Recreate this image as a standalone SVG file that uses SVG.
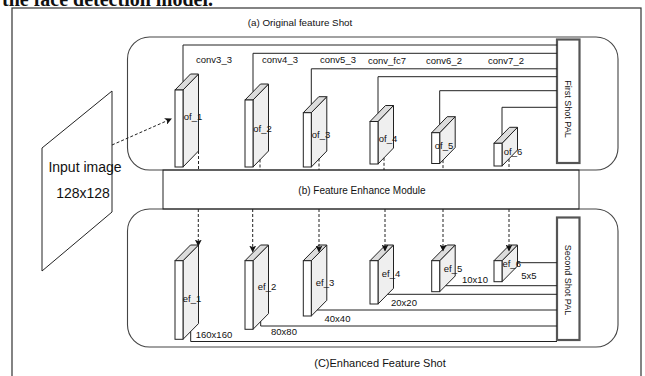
<svg xmlns="http://www.w3.org/2000/svg" width="645" height="376" viewBox="0 0 645 376">
<defs>
<style>
text{font-family:"Liberation Sans",Arial,sans-serif;fill:#111}
.lbl{font-size:9.5px;text-anchor:middle;dominant-baseline:central}
.ttl{font-size:9.8px;text-anchor:middle;dominant-baseline:central}
.ln{fill:none;stroke:#222;stroke-width:1}
.dash{fill:none;stroke:#222;stroke-width:1;stroke-dasharray:3 2}
.frame{fill:none;stroke:#333;stroke-width:1.2}
.grp{fill:none;stroke:#444;stroke-width:1.1}
.front{fill:#fff;stroke:#222;stroke-width:1}
.side{fill:#efefef;stroke:#222;stroke-width:1}
.top{fill:#dcdcdc;stroke:#222;stroke-width:1}
.pal{fill:#fff;stroke:#555;stroke-width:2.2}
</style>
<marker id="ah" markerWidth="7" markerHeight="7" refX="6" refY="3.5" orient="auto" markerUnits="userSpaceOnUse">
<path d="M0,0 L7,3.5 L0,7 L1.8,3.5 Z" fill="#111"/>
</marker>
</defs>
<rect width="645" height="376" fill="#fff"/>
<text x="2" y="6" style="font-family:'Liberation Serif','Times New Roman',serif;font-weight:bold;font-size:20px">the face detection model.</text>
<rect class="frame" x="12" y="8" width="629" height="400"/>

<g id="titles">
<text class="ttl" x="300" y="22">(a) Original feature Shot</text>
<text class="ttl" x="362" y="190" style="font-size:10px">(b) Feature Enhance Module</text>
<text class="ttl" x="380" y="362.5" style="font-size:11px">(C)Enhanced Feature Shot</text>
</g>

<g id="group-a"><rect class="grp" x="127.5" y="37" width="490.5" height="133" rx="22"/></g>
<g id="group-c"><rect class="grp" x="127.5" y="209" width="490.5" height="138" rx="22"/></g>
<g id="fem"><rect class="ln" x="163" y="170" width="416" height="39"/></g>

<g id="input">
<polygon points="42,148 112,91 112,212 42,271" fill="#fff" stroke="#222" stroke-width="1"/>
<text x="85" y="167" style="font-size:14px;text-anchor:middle;dominant-baseline:central">Input image</text>
<text x="83" y="193" style="font-size:14px;text-anchor:middle;dominant-baseline:central">128x128</text>
</g>

<g id="pal1">
<rect class="pal" x="557" y="39.5" width="22.5" height="123.5"/>
<text transform="translate(568,109) rotate(90)" style="font-size:9px;text-anchor:middle;dominant-baseline:central">First Shot PAL</text>
</g>
<g id="pal2">
<rect class="pal" x="557" y="217.5" width="22.5" height="122.5"/>
<text transform="translate(567.5,280) rotate(90)" style="font-size:9px;text-anchor:middle;dominant-baseline:central">Second Shot PAL</text>
</g>

<!-- top cubes: front x,w=8, dx=15.5, dy=16 -->
<g id="of_1">
<polygon class="side" points="183,90 198.5,74 198.5,151 183,167"/>
<polygon class="top" points="175,90 190.5,74 198.5,74 183,90"/>
<rect class="front" x="175" y="90" width="8" height="77"/>
<text class="lbl" x="193" y="116">of_1</text>
</g>
<g id="of_2">
<polygon class="side" points="253,100 268.5,84 268.5,151 253,167"/>
<polygon class="top" points="245,100 260.5,84 268.5,84 253,100"/>
<rect class="front" x="245" y="100" width="8" height="67"/>
<text class="lbl" x="262.5" y="128">of_2</text>
</g>
<g id="of_3">
<polygon class="side" points="311.3,112.7 326.8,96.7 326.8,151 311.3,167"/>
<polygon class="top" points="303.3,112.7 318.8,96.7 326.8,96.7 311.3,112.7"/>
<rect class="front" x="303.3" y="112.7" width="8" height="54.3"/>
<text class="lbl" x="321" y="134">of_3</text>
</g>
<g id="of_4">
<polygon class="side" points="378,121.5 393.5,105.5 393.5,148 378,164"/>
<polygon class="top" points="370,121.5 385.5,105.5 393.5,105.5 378,121.5"/>
<rect class="front" x="370" y="121.5" width="8" height="42.5"/>
<text class="lbl" x="388" y="138">of_4</text>
</g>
<g id="of_5">
<polygon class="side" points="439.7,132.7 455.2,116.7 455.2,147.5 439.7,163.5"/>
<polygon class="top" points="431.7,132.7 447.2,116.7 455.2,116.7 439.7,132.7"/>
<rect class="front" x="431.7" y="132.7" width="8" height="30.8"/>
<text class="lbl" x="444" y="145">of_5</text>
</g>
<g id="of_6">
<polygon class="side" points="502,143.3 517.5,127.3 517.5,150 502,166"/>
<polygon class="top" points="494,143.3 509.5,127.3 517.5,127.3 502,143.3"/>
<rect class="front" x="494" y="143.3" width="8" height="22.7"/>
<text class="lbl" x="513" y="151">of_6</text>
</g>

<!-- bottom cubes: front top 260.7, dy=15.7 -->
<g id="ef_1">
<polygon class="side" points="183,260.7 198.5,245 198.5,323.6 183,339.3"/>
<polygon class="top" points="175,260.7 190.5,245 198.5,245 183,260.7"/>
<rect class="front" x="175" y="260.7" width="8" height="78.6"/>
<text class="lbl" x="192" y="298.3">ef_1</text>
</g>
<g id="ef_2">
<polygon class="side" points="253,260.7 268.5,245 268.5,313.6 253,329.3"/>
<polygon class="top" points="245,260.7 260.5,245 268.5,245 253,260.7"/>
<rect class="front" x="245" y="260.7" width="8" height="68.6"/>
<text class="lbl" x="267" y="286.7">ef_2</text>
</g>
<g id="ef_3">
<polygon class="side" points="311.3,260.7 326.8,245 326.8,300.3 311.3,316"/>
<polygon class="top" points="303.3,260.7 318.8,245 326.8,245 311.3,260.7"/>
<rect class="front" x="303.3" y="260.7" width="8" height="55.3"/>
<text class="lbl" x="325" y="282.7">ef_3</text>
</g>
<g id="ef_4">
<polygon class="side" points="378,260.7 393.5,245 393.5,288.3 378,304"/>
<polygon class="top" points="370,260.7 385.5,245 393.5,245 378,260.7"/>
<rect class="front" x="370" y="260.7" width="8" height="43.3"/>
<text class="lbl" x="391" y="273.3">ef_4</text>
</g>
<g id="ef_5">
<polygon class="side" points="439.7,260.7 455.2,245 455.2,276 439.7,291.7"/>
<polygon class="top" points="431.7,260.7 447.2,245 455.2,245 439.7,260.7"/>
<rect class="front" x="431.7" y="260.7" width="8" height="31"/>
<text class="lbl" x="453" y="268.3">ef_5</text>
</g>
<g id="ef_6">
<polygon class="side" points="502,260.7 517.5,245 517.5,266 502,281.7"/>
<polygon class="top" points="494,260.7 509.5,245 517.5,245 502,260.7"/>
<rect class="front" x="494" y="260.7" width="8" height="21"/>
<text class="lbl" x="511.7" y="263.3">ef_6</text>
</g>

<g id="connectors">
<path class="dash" d="M112,145 L171,119" marker-end="url(#ah)"/>
<!-- top solid to First Shot PAL -->
<path class="ln" d="M183,81.7 V45 H557"/>
<path class="ln" d="M253,91.7 V53.3 H557"/>
<path class="ln" d="M311.3,104.4 V68.8 H557"/>
<path class="ln" d="M378,113.2 V76.7 H557"/>
<path class="ln" d="M439.7,124.4 V90.7 H557"/>
<path class="ln" d="M502,135 V107.3 H557"/>
<!-- dashed of -> FEM -->
<path class="dash" d="M198.5,151 V170"/>
<path class="dash" d="M260,159.5 V170"/>
<path class="dash" d="M319,158.5 V170"/>
<path class="dash" d="M384,157.8 V170"/>
<path class="dash" d="M443,160.1 V170"/>
<path class="dash" d="M509,159 V170"/>
<!-- dashed FEM -> ef -->
<path class="dash" d="M198.3,209 V245.5" marker-end="url(#ah)"/>
<path class="dash" d="M252.7,209 V251.5" marker-end="url(#ah)"/>
<path class="dash" d="M319,209 V251.5" marker-end="url(#ah)"/>
<path class="dash" d="M385,209 V250.5" marker-end="url(#ah)"/>
<path class="dash" d="M443,209 V250.5" marker-end="url(#ah)"/>
<path class="dash" d="M509,209 V250.5" marker-end="url(#ah)"/>
<!-- bottom solid to Second Shot PAL -->
<path class="ln" d="M190.7,331.5 V341.5 H557"/>
<path class="ln" d="M260.7,321.5 V326 H557"/>
<path class="ln" d="M317.2,310 H557"/>
<path class="ln" d="M387.6,294.3 H557"/>
<path class="ln" d="M445.6,285.7 H557"/>
<path class="ln" d="M517.5,262.7 H557"/>
</g>

<g id="conv-labels">
<text class="lbl" x="214" y="59.5">conv3_3</text>
<text class="lbl" x="280" y="59.5">conv4_3</text>
<text class="lbl" x="338" y="59.5">conv5_3</text>
<text class="lbl" x="387" y="60">conv_fc7</text>
<text class="lbl" x="444" y="60">conv6_2</text>
<text class="lbl" x="506" y="60">conv7_2</text>
</g>
<g id="size-labels">
<text class="lbl" x="214" y="334.3">160x160</text>
<text class="lbl" x="284" y="331.7">80x80</text>
<text class="lbl" x="337.5" y="318.3">40x40</text>
<text class="lbl" x="404" y="302.7">20x20</text>
<text class="lbl" x="475" y="279.3">10x10</text>
<text class="lbl" x="529" y="275">5x5</text>
</g>
</svg>
